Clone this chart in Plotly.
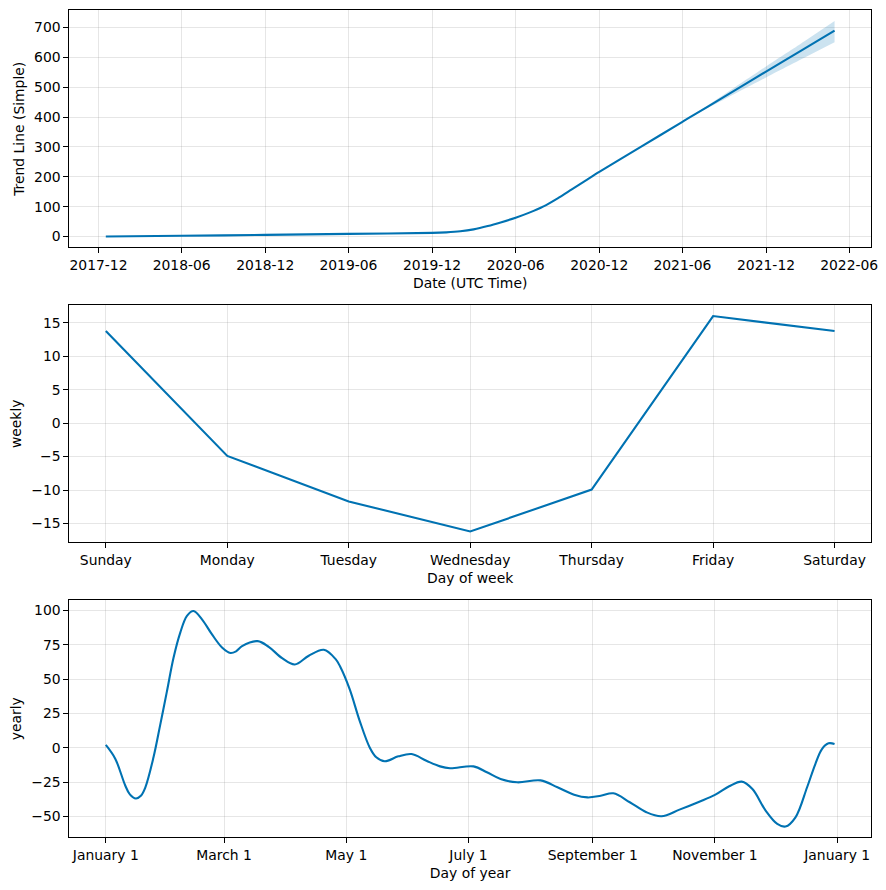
import pandas as pd
import plotly.graph_objects as go

# ---------------- data ----------------
trend_dates = ["2017-12-17", "2018-06-01", "2018-12-01", "2019-06-01", "2019-12-01",
               "2020-01-01", "2020-02-01", "2020-03-01", "2020-04-01", "2020-05-01",
               "2020-06-01", "2020-07-01", "2020-08-01", "2020-09-01", "2020-10-01",
               "2020-11-01", "2020-12-01", "2021-03-01", "2021-06-01", "2021-06-15",
               "2021-09-01", "2021-12-01", "2022-02-15", "2022-04-30"]
trend_values = [0.0, 2.5, 5.5, 9.0, 12.2,
                14.0, 17.5, 24.0, 35.0, 48.0,
                63.0, 80.0, 101.0, 128.0, 157.0,
                187.0, 216.0, 299.0, 384.0, 397.0,
                468.0, 552.0, 621.0, 689.0]

band_dates = ["2021-06-15", "2021-09-01", "2021-12-01", "2022-02-15", "2022-04-30"]
band_upper = [397.0, 476.0, 569.0, 645.0, 721.0]
band_lower = [397.0, 459.0, 532.0, 592.0, 650.0]

week_days = ["Sunday", "Monday", "Tuesday", "Wednesday", "Thursday", "Friday", "Saturday"]
weekly_values = [13.75, -4.9, -11.7, -16.2, -9.93, 15.99, 13.75]

year_days = [0, 4.7, 9.7, 12, 15, 17.5, 19.7, 23.8, 27.2, 30.5, 33.8, 37.2, 40.5, 43.8, 48,
             53, 58, 62.2, 65, 68, 75.8, 81.3, 88, 94.3, 101.3, 108.8, 114.7, 117, 121.7,
             126.7, 131.7, 135, 139.2, 146, 152.6, 160, 166.8, 171.8, 183.5, 190.2, 197,
             205.3, 217, 225.4, 233.7, 240.4, 247, 253.3, 261.5, 269.8, 277.3, 286.3, 296.2,
             304, 311.1, 317.4, 322.7, 329.3, 335.1, 339.2, 344.2, 350, 354.1, 357.4,
             360.7, 363.7]
yearly_values = [2.0, -8, -27.5, -34, -37, -35, -29, -7, 17, 41, 65.5, 84, 96, 99.5, 93.5,
                 82.5, 73, 69, 70.2, 74, 77.6, 73.4, 65.2, 60.6, 67, 71.3, 64.5, 59, 42.7,
                 19.6, 0.2, -7, -9.9, -6.3, -4.6, -9.5, -13.6, -15, -13.6, -17.9, -22.8,
                 -25.2, -23.8, -28.8, -34.2, -36.2, -35, -33.2, -39.7, -47, -49.9, -45.1, -39.3,
                 -34.4, -28.1, -24.7, -30.1, -45.8, -55.5, -57.4, -50.7, -28.8, -11.9, -1,
                 3.2, 2.7]

year_tick_dates = ["2017-01-01", "2017-03-01", "2017-05-01", "2017-07-01",
                   "2017-09-01", "2017-11-01", "2018-01-01"]
year_tick_labels = ["January 1", "March 1", "May 1", "July 1",
                    "September 1", "November 1", "January 1"]

# ---------------- styling ----------------
LINE = "#0072B2"
FILL = "rgba(0,114,178,0.2)"
GRID = "rgba(128,128,128,0.2)"
FONT = dict(family="DejaVu Sans", size=13.9, color="black")
OFF = 8                      # page body margin
W, H = 886 - 2 * OFF, 890 - 2 * OFF
EFF_W = 862                  # width the figure is actually drawn at on the page

def xdom():
    return [(69.3 - OFF) / EFF_W, min(1.0, (872.3 - OFF) / EFF_W)]

def ydom(top, bottom):
    return [1 - (bottom - OFF) / H, 1 - (top - OFF) / H]

def margin_range(lo, hi, frac=0.05):
    pad = (hi - lo) * frac
    return [lo - pad, hi + pad]

fig = go.Figure()

# trend panel
td = pd.to_datetime(trend_dates)
bd = pd.to_datetime(band_dates)
fig.add_trace(go.Scatter(x=bd, y=band_lower, mode="lines",
                         line=dict(width=0, color=LINE, shape="spline", smoothing=0.6),
                         showlegend=False, hoverinfo="skip", xaxis="x", yaxis="y"))
fig.add_trace(go.Scatter(x=bd, y=band_upper, mode="lines",
                         line=dict(width=0, color=LINE, shape="spline", smoothing=0.6),
                         fill="tonexty", fillcolor=FILL, showlegend=False, hoverinfo="skip",
                         xaxis="x", yaxis="y"))
fig.add_trace(go.Scatter(x=td, y=trend_values, mode="lines",
                         line=dict(color=LINE, width=2.1, shape="spline", smoothing=0.7),
                         showlegend=False, xaxis="x", yaxis="y"))

# weekly panel
wx = list(range(len(week_days)))
fig.add_trace(go.Scatter(x=wx, y=weekly_values, mode="lines", line=dict(color=LINE, width=2.1),
                         showlegend=False, xaxis="x2", yaxis="y2"))

# yearly panel
yd = pd.Timestamp("2017-01-01") + pd.to_timedelta(year_days, unit="D")
fig.add_trace(go.Scatter(x=yd, y=yearly_values, mode="lines",
                         line=dict(color=LINE, width=2.1, shape="spline", smoothing=1.0),
                         showlegend=False, xaxis="x3", yaxis="y3"))

common_axis = dict(showline=True, linecolor="black", linewidth=1, mirror=True,
                   ticks="outside", ticklen=5, tickwidth=1, tickcolor="black",
                   showgrid=True, gridcolor=GRID, gridwidth=1, zeroline=False,
                   tickfont=FONT, title_font=FONT, ticklabeloverflow="allow")

# ranges
t_lo, t_hi = td.min(), td.max()
t_pad = (t_hi - t_lo) * 0.05
ty = margin_range(min(min(trend_values), min(band_lower)), max(max(trend_values), max(band_upper)))
wy = margin_range(min(weekly_values), max(weekly_values))
y_lo, y_hi = yd.min(), yd.max()
y_pad = (y_hi - y_lo) * 0.05
yy = margin_range(min(yearly_values), max(yearly_values))

fig.update_layout(
    width=W, height=H,
    margin=dict(l=0, r=0, t=0, b=0),
    paper_bgcolor="white", plot_bgcolor="white",
    font=FONT,
    showlegend=False,
    xaxis=dict(common_axis, domain=xdom(), anchor="y", range=[t_lo - t_pad, t_hi + t_pad],
               tick0="2017-12-01", dtick="M6", tickformat="%Y-%m",
               title=dict(text="Date (UTC Time)", standoff=6)),
    yaxis=dict(common_axis, domain=ydom(10.3, 247.3), anchor="x", range=ty,
               tick0=0, dtick=100, title=dict(text="Trend Line (Simple)", standoff=6)),
    xaxis2=dict(common_axis, domain=xdom(), anchor="y2", range=[-0.3, 6.3],
                tickvals=wx, ticktext=week_days,
                title=dict(text="Day of week", standoff=6)),
    yaxis2=dict(common_axis, domain=ydom(305.3, 542.3), anchor="x2", range=wy,
                tick0=0, dtick=5, title=dict(text="weekly", standoff=6)),
    xaxis3=dict(common_axis, domain=xdom(), anchor="y3", range=[y_lo - y_pad, y_hi + y_pad],
                tickvals=pd.to_datetime(year_tick_dates), ticktext=year_tick_labels,
                title=dict(text="Day of year", standoff=6)),
    yaxis3=dict(common_axis, domain=ydom(600.3, 837.3), anchor="x3", range=yy,
                tick0=0, dtick=25, title=dict(text="yearly", standoff=6)),
)

fig.write_html("out.html")
